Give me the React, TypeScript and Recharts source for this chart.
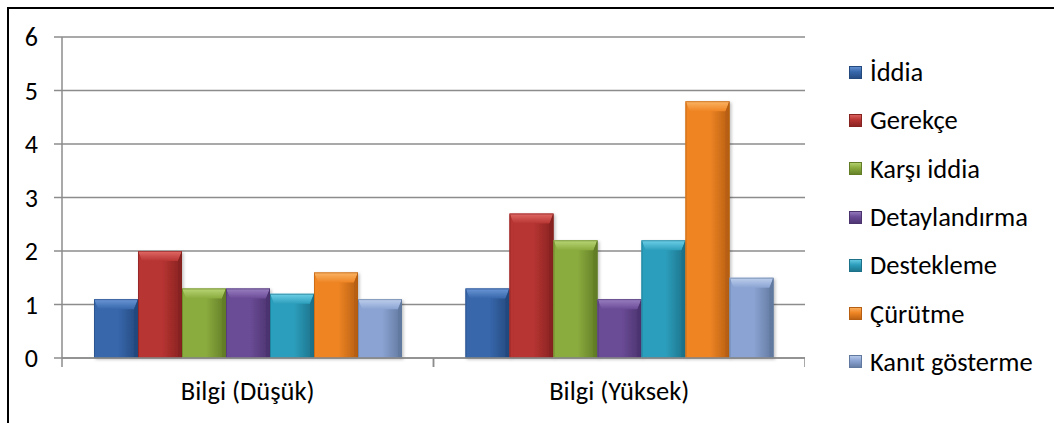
import React from "react";
import { Bar, BarChart, CartesianGrid, XAxis, YAxis } from "recharts";

const categories = ["Bilgi (Düşük)", "Bilgi (Yüksek)"];
const seriesNames = ["İddia", "Gerekçe", "Karşı iddia", "Detaylandırma", "Destekleme", "Çürütme", "Kanıt gösterme"];
const dusukValues = [1.1, 2.0, 1.3, 1.3, 1.2, 1.6, 1.1];
const yuksekValues = [1.3, 2.7, 2.2, 1.1, 2.2, 4.8, 1.5];
const yTicks = [0, 1, 2, 3, 4, 5, 6];

// base / light / dark tones per series for the bevelled look
const seriesColors = [
  { base: "#3767ab", light: "#6b97d6", dark: "#24497e" },
  { base: "#b73432", light: "#e06a66", dark: "#862220" },
  { base: "#8aab3e", light: "#b9d676", dark: "#627d26" },
  { base: "#6a4b96", light: "#9a80c2", dark: "#4b336e" },
  { base: "#2c9ebc", light: "#6fd0e8", dark: "#1c7189" },
  { base: "#ef8524", light: "#fbb565", dark: "#b65e12" },
  { base: "#8aa3d2", light: "#bfd0ee", dark: "#61799f" },
];

const valueRows = [dusukValues, yuksekValues];
const data = categories.map((category, ci) => {
  const row: Record<string, string | number> = { category };
  seriesNames.forEach((_, si) => {
    row[`s${si}`] = valueRows[ci][si];
  });
  return row;
});

const FONT = "Carlito, Lato, 'Open Sans', sans-serif";
const GRID = "#8c8c8c";

function BevelBar(si: number) {
  return (props: any) => {
    const { x, y, width, height } = props;
    if (!height || height <= 0) return null;
    const c = seriesColors[si];
    const b = Math.min(10, width / 4, height / 2);
    const s = Math.min(4, width / 8);
    return (
      <g filter="url(#barShadow)">
        <rect x={x} y={y} width={width} height={height} fill={`url(#body${si})`} />
        {/* top bevel */}
        <polygon
          points={`${x},${y} ${x + width},${y} ${x + width - s},${y + b} ${x + s},${y + b}`}
          fill={`url(#top${si})`}
        />
        {/* left and right edges */}
        <polygon
          points={`${x},${y} ${x + s},${y + b} ${x + s},${y + height} ${x},${y + height}`}
          fill={c.base}
          opacity={0.9}
        />
        <polygon
          points={`${x + width},${y} ${x + width - s},${y + b} ${x + width - s},${y + height} ${x + width},${y + height}`}
          fill={c.dark}
          opacity={0.85}
        />
        <rect x={x + 0.5} y={y + 0.5} width={width - 1} height={height - 1} fill="none" stroke={c.dark} strokeOpacity={0.6} />
      </g>
    );
  };
}

function CategoryTick(props: any) {
  const { x, y, payload } = props;
  const half = payload.offset || 0;
  return (
    <g>
      <line x1={x - half} y1={y} x2={x - half} y2={y + 9} stroke={GRID} strokeWidth={1.5} />
      <line x1={x + half} y1={y} x2={x + half} y2={y + 9} stroke={GRID} strokeWidth={1.5} />
      <text x={x} y={y + 42} textAnchor="middle" fontSize={26.5} fontFamily={FONT} fill="#000">
        {payload.value}
      </text>
    </g>
  );
}

export default function App() {
  return (
    <div style={{ position: "absolute", left: 0, top: 0, width: 1054, height: 423, background: "#fff", overflow: "hidden" }}>
      <div
        style={{
          position: "absolute",
          left: 7,
          top: 7,
          width: 1100,
          height: 500,
          borderTop: "2px solid #000",
          borderLeft: "2px solid #000",
        }}
      />
      <div style={{ position: "absolute", left: 0, top: 0 }}>
        <BarChart
          width={805}
          height={423}
          data={data}
          margin={{ top: 37, right: 0, bottom: 0, left: 0 }}
          barCategoryGap={32}
          barGap={0}
        >
          <defs>
            <filter id="barShadow" x="-10%" y="-10%" width="130%" height="130%">
              <feDropShadow dx="1.5" dy="1.5" stdDeviation="1.5" floodColor="#000" floodOpacity="0.25" />
            </filter>
            {seriesColors.map((c, i) => (
              <React.Fragment key={i}>
                <linearGradient id={`body${i}`} x1="0" y1="0" x2="1" y2="0">
                  <stop offset="0%" stopColor={c.base} />
                  <stop offset="55%" stopColor={c.base} />
                  <stop offset="100%" stopColor={c.dark} />
                </linearGradient>
                <linearGradient id={`top${i}`} x1="0" y1="0" x2="0" y2="1">
                  <stop offset="0%" stopColor={c.light} />
                  <stop offset="100%" stopColor={c.base} />
                </linearGradient>
              </React.Fragment>
            ))}
          </defs>
          <CartesianGrid vertical={false} stroke={GRID} strokeWidth={1.5} />
          <YAxis
            width={62}
            domain={[0, 6]}
            ticks={yTicks}
            interval={0}
            axisLine={{ stroke: GRID, strokeWidth: 1.5 }}
            tickLine={{ stroke: GRID, strokeWidth: 1.5 }}
            tickSize={8}
            tickMargin={16}
            tick={{ fill: "#000", fontSize: 26, fontFamily: FONT }}
          />
          <XAxis
            dataKey="category"
            height={65}
            axisLine={{ stroke: GRID, strokeWidth: 1.5 }}
            tickLine={false}
            tickSize={0}
            tickMargin={0}
            interval={0}
            tick={<CategoryTick />}
          />
          {seriesNames.map((name, i) => (
            <Bar
              key={name}
              dataKey={`s${i}`}
              name={name}
              fill={seriesColors[i].base}
              shape={BevelBar(i)}
              isAnimationActive={false}
            />
          ))}
        </BarChart>
      </div>
      <div style={{ position: "absolute", left: 849, top: 48, fontFamily: FONT, fontSize: 26.5, color: "#000" }}>
        {seriesNames.map((name, i) => (
          <div key={name} style={{ display: "flex", alignItems: "center", height: 48.3 }}>
            <span
              style={{
                display: "inline-block",
                width: 13,
                height: 13,
                marginRight: 8,
                background: `linear-gradient(180deg, ${seriesColors[i].light} 0%, ${seriesColors[i].base} 45%, ${seriesColors[i].dark} 100%)`,
                boxShadow: `inset 0 0 0 1px ${seriesColors[i].dark}`,
              }}
            />
            <span>{name}</span>
          </div>
        ))}
      </div>
    </div>
  );
}
